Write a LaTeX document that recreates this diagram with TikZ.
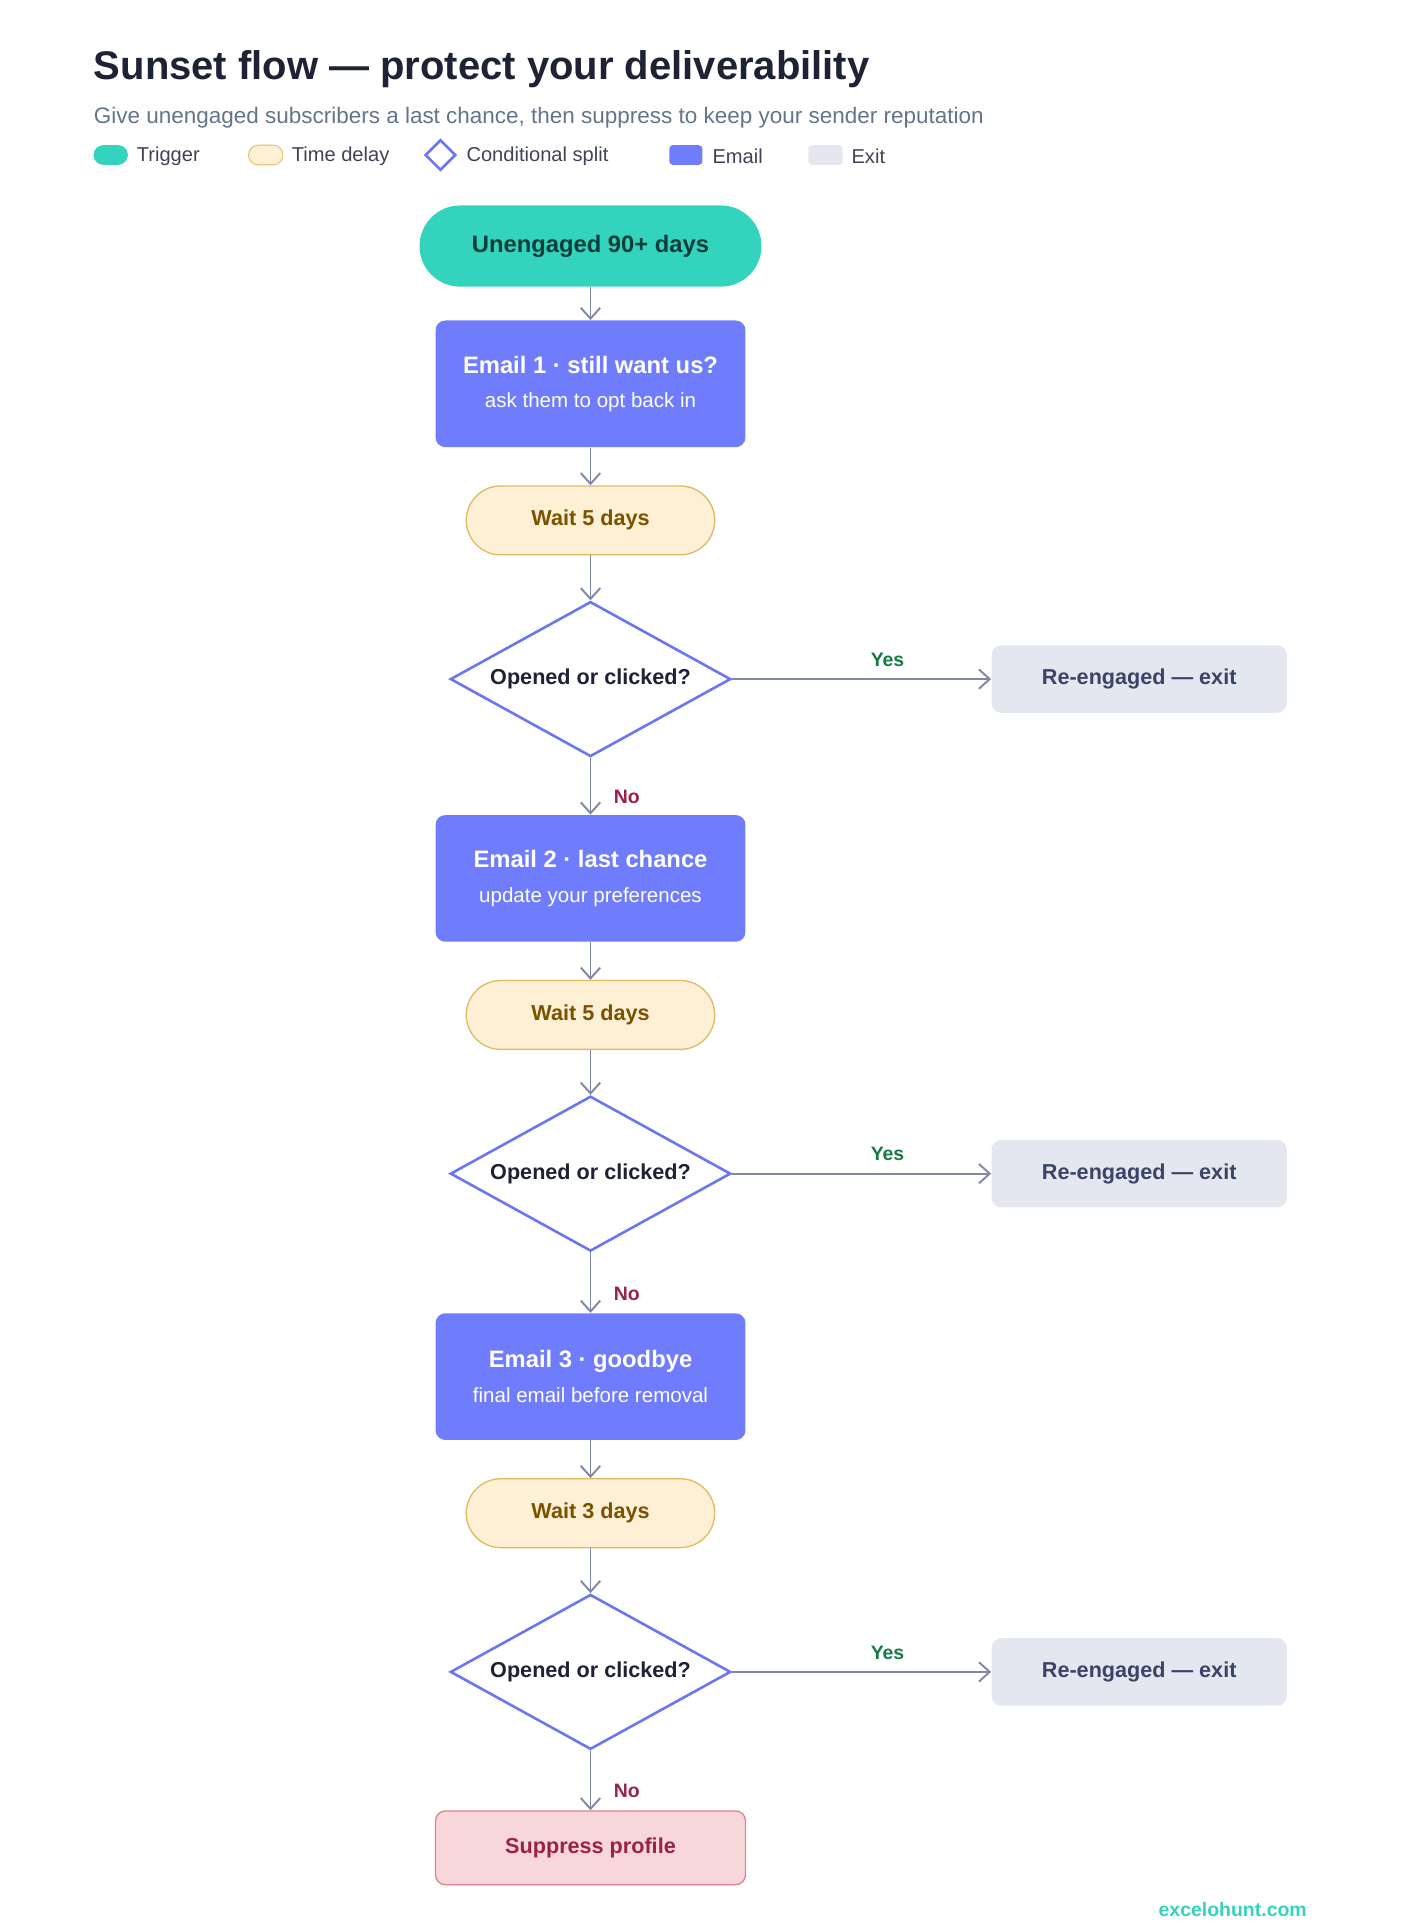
\documentclass[tikz,border=0pt]{standalone}
\usepackage{fontspec}
\setmainfont{Liberation Sans}
\usetikzlibrary{positioning,shapes.geometric,arrows.meta}

\definecolor{trig}{HTML}{34D3BD}
\definecolor{trigtxt}{HTML}{0B3D3A}
\definecolor{mail}{HTML}{6F7CFB}
\definecolor{waitfill}{HTML}{FDF0D5}
\definecolor{waitdraw}{HTML}{E0B963}
\definecolor{waittxt}{HTML}{7A5200}
\definecolor{split}{HTML}{6B76F0}
\definecolor{exitfill}{HTML}{E5E7F0}
\definecolor{exittxt}{HTML}{3A4466}
\definecolor{yescol}{HTML}{157A45}
\definecolor{nocol}{HTML}{9B2245}
\definecolor{supfill}{HTML}{F7D7D9}
\definecolor{supdraw}{HTML}{E0838E}
\definecolor{flow}{HTML}{7F88A8}
\definecolor{ink}{HTML}{1E2235}
\definecolor{muted}{HTML}{64748B}

\tikzset{
  trigger/.style={rounded corners=0.66cm, fill=trig, text=trigtxt, font=\bfseries\fontsize{11}{13}\selectfont,
    minimum width=5.56cm, minimum height=1.32cm},
  email/.style={rounded corners=0.16cm, fill=mail, text=white, align=center,
    minimum width=5.04cm, minimum height=2.06cm},
  delay/.style={rounded corners=0.56cm, fill=waitfill, draw=waitdraw, line width=0.6pt, text=waittxt,
    font=\bfseries\fontsize{10}{12}\selectfont, minimum width=4.04cm, minimum height=1.12cm},
  split/.style={diamond, aspect=1.8, draw=split, fill=white, line width=1.2pt, inner sep=0pt, text=ink,
    font=\bfseries\fontsize{10}{12}\selectfont, minimum width=4.56cm, minimum height=2.52cm},
  exit/.style={rounded corners=0.16cm, fill=exitfill, text=exittxt, font=\bfseries\fontsize{10}{12}\selectfont,
    minimum width=4.8cm, minimum height=1.1cm},
  flowline/.style={draw=flow, line width=0.9pt, -{Straight Barb[length=5pt,width=9pt]}},
  yes/.style={text=yescol, font=\bfseries\fontsize{9}{11}\selectfont},
  no/.style={text=nocol, font=\bfseries\fontsize{9}{11}\selectfont},
  legtext/.style={anchor=west, text=ink!85, font=\fontsize{9.3}{11}\selectfont}
}

\begin{document}
\begin{tikzpicture}[x=0.02cm, y=-0.02cm]
\useasboundingbox (0,0) rectangle (1140,1568);

% header
\node[anchor=west, inner sep=0pt, text=ink, font=\bfseries\fontsize{18.5}{22}\selectfont] (title) at (76,56) {Sunset flow — protect your deliverability};
\node[anchor=west, inner sep=0pt, text=muted, font=\fontsize{10.4}{13}\selectfont] (subtitle) at (76,96) {Give unengaged subscribers a last chance, then suppress to keep your sender reputation};

% legend
\fill[trig, rounded corners=0.16cm] (76,118) rectangle (104,134);
\node[legtext] (lg1) at (105,127) {Trigger};
\filldraw[fill=waitfill, draw=waitdraw, rounded corners=0.16cm] (202,118) rectangle (230,134);
\node[legtext] (lg2) at (231,127) {Time delay};
\draw[split, line width=1.2pt, fill=white] (358,114) -- (370,126) -- (358,138) -- (346,126) -- cycle;
\node[legtext] (lg3) at (373,127) {Conditional split};
\fill[mail, rounded corners=0.06cm] (544,118) rectangle (571,134);
\node[legtext] (lg4) at (573,127) {Email};
\fill[exitfill, rounded corners=0.06cm] (657,118) rectangle (685,134);
\node[legtext] (lg5) at (686,127) {Exit};

% flow
\node[trigger] (start) at (480,200) {Unengaged 90+ days};

\foreach \n/\y/\ttl/\sub/\days in {1/312/Email 1 · still want us?/ask them to opt back in/5,
    2/714/Email 2 · last chance/update your preferences/5,
    3/1119/Email 3 · goodbye/final email before removal/3} {
  \node[email] (mail\n) at (480,\y) {{\bfseries\fontsize{11}{13}\selectfont \ttl}\\[4pt]{\fontsize{9.5}{11}\selectfont \sub}};
  \node[delay] (wait\n) at (480,\y+111) {Wait \days\ days};
  \node[split] (check\n) at (480,\y+240) {Opened or clicked?};
  \node[exit] (exit\n) at (926,\y+240) {Re-engaged — exit};
  \draw[flowline] (mail\n) -- (wait\n);
  \draw[flowline] (wait\n) -- (check\n);
  \draw[flowline] (check\n) -- node[yes, above=2pt, pos=0.6] {Yes} (exit\n);
}

\node[rounded corners=0.16cm, fill=supfill, draw=supdraw, line width=0.6pt, text=nocol,
  font=\bfseries\fontsize{10}{12}\selectfont, minimum width=5.04cm, minimum height=1.2cm] (suppress) at (480,1502) {Suppress profile};

\draw[flowline] (start) -- (mail1);
\draw[flowline] (check1) -- node[no, right=7pt, pos=0.68] {No} (mail2);
\draw[flowline] (check2) -- node[no, right=7pt, pos=0.68] {No} (mail3);
\draw[flowline] (check3) -- node[no, right=7pt, pos=0.68] {No} (suppress);

\node[text=trig, font=\bfseries\fontsize{9}{11}\selectfont] (footer) at (1002,1552) {excelohunt.com};
\end{tikzpicture}
\end{document}
